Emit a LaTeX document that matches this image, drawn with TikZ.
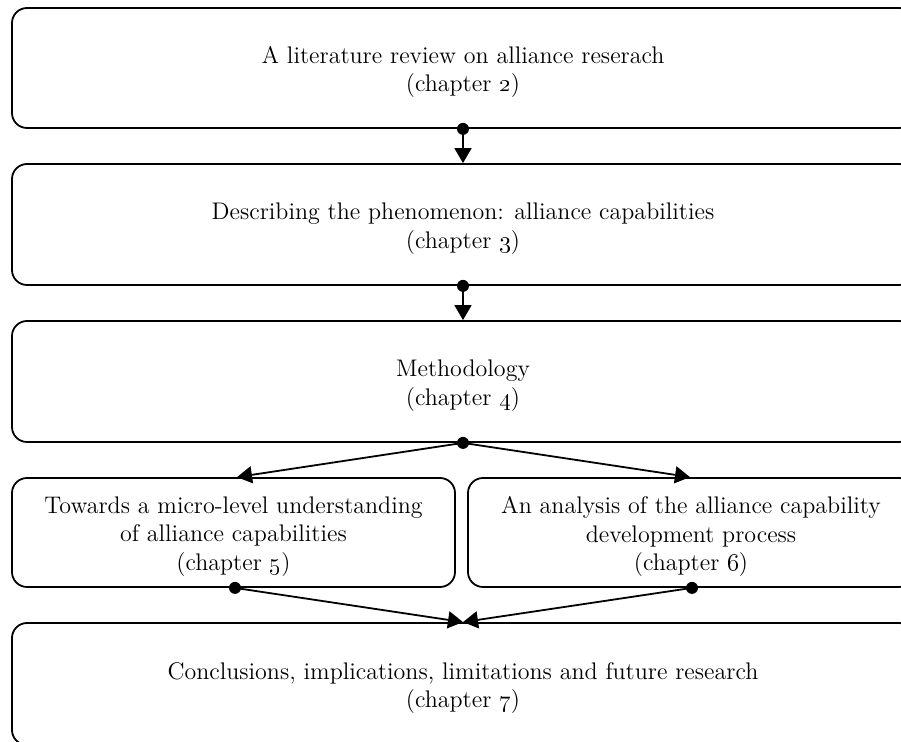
\documentclass[tikz,border=0pt]{standalone}
\usepackage{tikz}
\usetikzlibrary{positioning, arrows.meta, calc}

\begin{document}
\begin{tikzpicture}[x=0.5pt, y=-0.5pt, ->, >={Triangle[width=8.5pt,length=7.5pt]}, line width=0.9pt,
  chapterbox/.style={draw, rectangle, rounded corners=7.5pt, inner sep=0pt},
  chaptext/.style={align=center, inner sep=0pt, yshift=-2pt,
    font=\fontsize{12}{14.4}\selectfont},
  dot/.style={circle, fill=black, inner sep=0pt, minimum size=6pt},
]
  \useasboundingbox (0,0) rectangle (901,742);

  \node[chapterbox, minimum width=451pt, minimum height=60pt,
    label={[chaptext]center:A literature review on alliance reserach\\(chapter \oldstylenums{2})}] (review) at (463,68) {};
  \node[chapterbox, minimum width=451pt, minimum height=60.5pt,
    label={[chaptext]center:Describing the phenomenon: alliance capabilities\\(chapter \oldstylenums{3})}] (phenom) at (463,224.5) {};
  \node[chapterbox, minimum width=451pt, minimum height=60.5pt,
    label={[chaptext]center:Methodology\\(chapter \oldstylenums{4})}] (method) at (463,381.5) {};
  \node[chapterbox, minimum width=221.5pt, minimum height=54.5pt,
    label={[chaptext]center:Towards a micro-level understanding\\of alliance capabilities\\(chapter \oldstylenums{5})}] (micro) at (233.5,532.5) {};
  \node[chapterbox, minimum width=223pt, minimum height=54.5pt,
    label={[chaptext]center:An analysis of the alliance capability\\development process\\(chapter \oldstylenums{6})}] (devproc) at (691,532.5) {};
  \node[chapterbox, minimum width=451pt, minimum height=61pt,
    label={[chaptext]center:Conclusions, implications, limitations and future research\\(chapter \oldstylenums{7})}] (concl) at (463,684) {};

  % dots on the lower edges
  \node[dot] (d1) at (review.south) {};
  \node[dot] (d2) at (phenom.south) {};
  \node[dot] (d3) at (method.south) {};
  \node[dot] (d4) at ([xshift=0.75pt]micro.south) {};
  \node[dot] (d5) at ([xshift=0.5pt]devproc.south) {};

  \path
    (d1.center) edge (phenom.north)
    (d2.center) edge (method.north)
    (d3.center) edge ([xshift=1.75pt]micro.north)
    (d3.center) edge ([xshift=-0.5pt]devproc.north)
    (d4.center) edge (concl.north)
    (d5.center) edge (concl.north);

\end{tikzpicture}
\end{document}
